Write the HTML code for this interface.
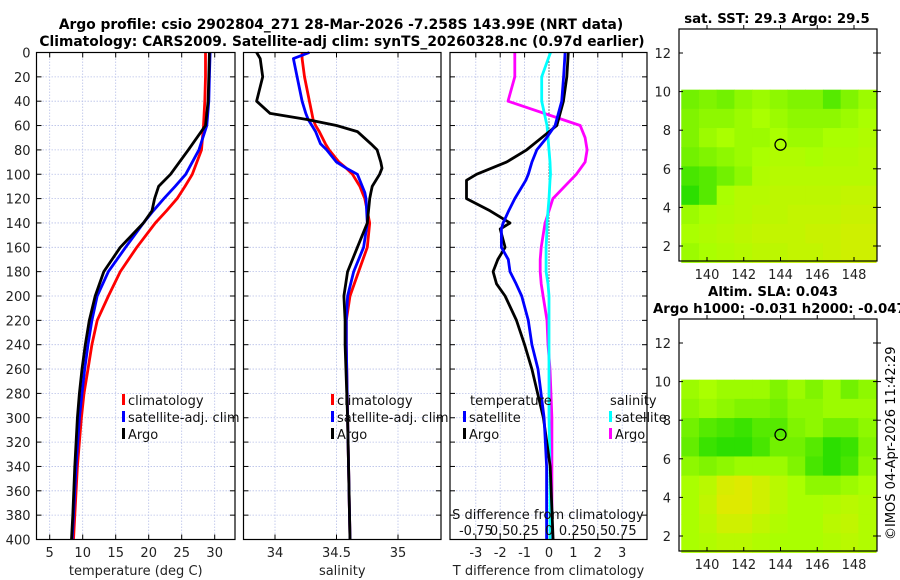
<!DOCTYPE html>
<html><head><meta charset="utf-8">
<style>
html,body{margin:0;padding:0;background:#fff;}
svg{display:block;font-family:"DejaVu Sans","Liberation Sans",sans-serif;}
</style></head>
<body>
<svg id="fig" width="900" height="580" viewBox="0 0 900 580" xmlns="http://www.w3.org/2000/svg">
<text x="341" y="29" text-anchor="middle" font-size="13.8" font-weight="bold">Argo profile: csio 2902804_271 28-Mar-2026 -7.258S 143.99E (NRT data)</text>
<text x="342" y="46" text-anchor="middle" font-size="13.8" font-weight="bold">Climatology: CARS2009. Satellite-adj clim: synTS_20260328.nc (0.97d earlier)</text>
<text x="777" y="23" text-anchor="middle" font-size="13.3" font-weight="bold">sat. SST: 29.3 Argo: 29.5</text>
<text x="773" y="296" text-anchor="middle" font-size="13.3" font-weight="bold">Altim. SLA: 0.043</text>
<text x="653" y="313" font-size="13.3" font-weight="bold">Argo h1000: -0.031 h2000: -0.047</text>
<text transform="translate(895,540) rotate(-90)" font-size="13">©IMOS 04-Apr-2026 11:42:29</text>
<g id="g"></g>
</svg>
<script>
// ---------- data ----------
const depthT = [0,20,40,60,80,100,110,120,130,140,160,180,200,220,240,260,280,300,340,380,400];
const tempClim = [28.6,28.6,28.5,28.3,28.0,26.6,25.5,24.3,22.7,21.0,18.2,15.7,13.9,12.2,11.4,10.8,10.2,9.8,9.2,8.8,8.6];
const tempSat  = [29.3,29.2,29.1,28.8,27.6,25.6,24.0,22.3,20.7,19.2,16.5,13.9,12.2,11.4,10.8,10.3,9.9,9.5,9.0,8.6,8.4];
const tempArgo = [29.2,29.1,29.0,28.6,26.0,23.3,21.5,20.9,20.5,19.2,15.7,13.2,11.9,11.0,10.4,9.9,9.5,9.2,8.8,8.5,8.3];

const depthS = [0,5,20,40,50,55,60,65,75,80,90,95,100,110,115,120,140,160,180,200,220,240,300,400];
const salClim = [34.22,34.22,34.24,34.28,34.30,34.31,34.33,34.36,34.41,34.44,34.52,34.58,34.63,34.69,34.71,34.73,34.77,34.75,34.68,34.61,34.58,34.58,34.59,34.61];
const salSat  = [34.28,34.15,34.18,34.22,34.25,34.27,34.30,34.33,34.37,34.42,34.50,34.58,34.67,34.71,34.73,34.74,34.75,34.72,34.64,34.59,34.58,34.58,34.59,34.61];
const salArgo = [33.85,33.88,33.90,33.85,33.96,34.26,34.50,34.67,34.78,34.83,34.86,34.87,34.85,34.79,34.78,34.77,34.75,34.67,34.59,34.56,34.57,34.57,34.59,34.61];

const depthD = [0,20,40,60,70,80,90,100,105,120,130,140,145,160,170,180,190,200,220,240,260,300,340,400];
const tDiffArgo = [0.79,0.73,0.59,0.32,-0.30,-0.92,-1.74,-2.97,-3.38,-3.38,-2.42,-1.60,-2.00,-1.80,-2.10,-2.29,-2.15,-1.80,-1.33,-1.00,-0.70,-0.23,0.05,0.17];
const tDiffSat  = [0.66,0.60,0.52,0.25,-0.10,-0.50,-0.70,-0.85,-0.95,-1.40,-1.65,-1.88,-1.95,-1.95,-1.67,-1.60,-1.35,-1.12,-0.85,-0.70,-0.45,-0.20,-0.10,-0.10];
const sDiffArgo = [-0.35,-0.35,-0.42,0.32,0.37,0.39,0.37,0.28,0.22,0.04,0.00,-0.04,-0.05,-0.08,-0.09,-0.09,-0.08,-0.06,-0.02,-0.01,0.01,0.03,0.03,0.03];
const sDiffSat  = [0.015,-0.075,-0.075,-0.02,-0.01,0.00,0.01,0.015,0.01,0.00,-0.01,-0.02,-0.02,-0.03,-0.03,-0.03,-0.01,0.00,0.00,0.00,0.00,0.00,0.01,0.01];

const depthTicks = [0,20,40,60,80,100,120,140,160,180,200,220,240,260,280,300,320,340,360,380,400];
const tempTicks = [5,10,15,20,25,30];
const salTicks = [34,34.5,35];
const tDiffTicks = [-3,-2,-1,0,1,2,3];
const sDiffTicks = [-0.75,-0.5,-0.25,0,0.25,0.5,0.75];
const sDiffTickLabels = ["-0.75","0.5","0.25","0","0.25","0.5","0.75"];

const latTicks = [2,4,6,8,10,12];
const lonTicks = [140,142,144,146,148];
const sstGrid = [
 [.30,.35,.30,.40,.45,.40,.35,.35,.20,.35,.45],
 [.35,.40,.40,.45,.50,.45,.40,.40,.40,.45,.50],
 [.35,.45,.50,.45,.45,.50,.45,.45,.50,.50,.55],
 [.30,.35,.40,.45,.50,.55,.55,.50,.55,.55,.60],
 [.15,.20,.30,.40,.55,.60,.60,.60,.60,.60,.60],
 [.05,.20,.50,.60,.60,.65,.65,.65,.65,.70,.70],
 [.45,.50,.55,.60,.65,.65,.70,.70,.70,.75,.75],
 [.50,.55,.60,.65,.70,.70,.70,.75,.75,.80,.80],
 [.45,.50,.55,.60,.65,.65,.70,.70,.75,.80,.80]];
const slaGrid = [
 [.45,.50,.45,.45,.45,.35,.45,.35,.45,.30,.40],
 [.40,.45,.40,.35,.35,.30,.40,.40,.45,.45,.45],
 [.30,.20,.15,.10,.20,.20,.35,.40,.30,.30,.40],
 [.25,.10,.05,.05,.15,.30,.30,.20,.05,.10,.35],
 [.40,.35,.40,.45,.45,.45,.35,.15,.05,.15,.40],
 [.50,.60,.80,.85,.75,.60,.50,.40,.40,.45,.50],
 [.50,.65,.85,.85,.75,.60,.50,.50,.55,.60,.55],
 [.50,.60,.75,.75,.65,.55,.50,.50,.60,.65,.55],
 [.50,.55,.60,.60,.55,.50,.50,.50,.55,.60,.55]];
const argoLon = [144.0];
const argoLat = [7.25];

// ---------- helpers ----------
const NS="http://www.w3.org/2000/svg";
const G=document.getElementById('g');
function mk(tag,attrs,parent){const e=document.createElementNS(NS,tag);for(const k in attrs)e.setAttribute(k,attrs[k]);(parent||G).appendChild(e);return e;}
const yD = d => 52.5 + d*1.2175;

function panel(x0,x1,name,xs,ticks,labels,showY,xlabel){
  const y0=52.5,y1=yD(400);
  const grp=mk('g',{});
  
  
  depthTicks.forEach(d=>{
    const l=mk('line',{x1:x0,x2:x1,y1:yD(d),y2:yD(d),stroke:'#b8c0e8','stroke-width':0.8,'stroke-dasharray':'1.5,1.5'},grp);
    
    
    mk('line',{x1:x0,x2:x0+5,y1:yD(d),y2:yD(d),stroke:'#000'},grp);
    mk('line',{x1:x1-5,x2:x1,y1:yD(d),y2:yD(d),stroke:'#000'},grp);
    if(showY){const t=mk('text',{x:x0-6,y:yD(d)+5,'text-anchor':'end','font-size':13,fill:'#222'},grp);t.textContent=d;
      
      }
  });
  ticks.forEach((v,i)=>{
    const X=xs(v);
    mk('line',{x1:X,x2:X,y1:y0,y2:y1,stroke:'#b8c0e8','stroke-width':0.8,'stroke-dasharray':'1.5,1.5'},grp);
    mk('line',{x1:X,x2:X,y1:y1-5,y2:y1,stroke:'#000'},grp);
    mk('line',{x1:X,x2:X,y1:y0,y2:y0+5,stroke:'#000'},grp);
    const t=mk('text',{x:X,y:557,'text-anchor':'middle','font-size':13,fill:'#222'},grp);t.textContent=labels[i];
    
    
  });
  const xl=mk('text',{x:(x0+x1)/2,y:575,'text-anchor':'middle','font-size':13,fill:'#222'},grp);xl.textContent=xlabel;
  
  
  return grp;
}
function frame(x0,x1,grp){mk('rect',{x:x0,y:52.5,width:x1-x0,height:yD(400)-52.5,fill:'none',stroke:'#000','stroke-width':1.2},grp);}
function line(grp,xs,vals,depths,color,name){
  const p=mk('polyline',{points:vals.map((v,i)=>xs(v).toFixed(1)+','+yD(depths[i]).toFixed(1)).join(' '),fill:'none',stroke:color,'stroke-width':2.8,'stroke-linejoin':'round'},grp);
  
  
}
function legend(grp,x,y,color,label,name){
  mk('rect',{x:x,y:y-11,width:3,height:11,fill:color},grp);
  const t=mk('text',{x:x+6,y:y,'font-size':13,fill:'#111'},grp);t.textContent=label;
  
  
}

// ---------- panel 1: temperature ----------
const xT = t => 49.7 + (t-5)*6.6;
const p1=panel(36.5,235,'temperature-panel',xT,tempTicks,tempTicks,true,'temperature (deg C)');
line(p1,xT,tempClim,depthT,'#ff0000','temp-climatology-line');
line(p1,xT,tempSat,depthT,'#0000ff','temp-satellite-line');
line(p1,xT,tempArgo,depthT,'#000000','temp-argo-line');
legend(p1,122,405,'#ff0000','climatology','legend-climatology');
legend(p1,122,422,'#0000ff','satellite-adj. clim','legend-satellite');
legend(p1,122,439,'#000000','Argo','legend-argo');
frame(36.5,235,p1);

// ---------- panel 2: salinity ----------
const xS = s => 275 + (s-34)*123;
const p2=panel(243.5,441,'salinity-panel',xS,salTicks,['34','34.5','35'],false,'salinity');
line(p2,xS,salClim,depthS,'#ff0000','sal-climatology-line');
line(p2,xS,salSat,depthS,'#0000ff','sal-satellite-line');
line(p2,xS,salArgo,depthS,'#000000','sal-argo-line');
legend(p2,331,405,'#ff0000','climatology','legend-sal-climatology');
legend(p2,331,422,'#0000ff','satellite-adj. clim','legend-sal-satellite');
legend(p2,331,439,'#000000','Argo','legend-sal-argo');
frame(243.5,441,p2);

// ---------- panel 3: differences ----------
const xDT = v => 549 + v*24.4;
const xDS = v => 549 + v*4*24.4;
const p3=panel(450,647,'difference-panel',xDT,tDiffTicks,tDiffTicks,false,'T difference from climatology');
const zl=mk('line',{x1:549,x2:549,y1:52.5,y2:yD(400),stroke:'#000','stroke-width':1,'stroke-dasharray':'1,2'},p3);


line(p3,xDS,sDiffArgo,depthD,'#ff00ff','sdiff-argo-line');
line(p3,xDS,sDiffSat,depthD,'#00ffff','sdiff-satellite-line');
line(p3,xDT,tDiffArgo,depthD,'#000000','tdiff-argo-line');
line(p3,xDT,tDiffSat,depthD,'#0000ff','tdiff-satellite-line');
const lt=mk('text',{x:470,y:405,'font-size':13,fill:'#111'},p3);lt.textContent='temperature';


const ls=mk('text',{x:610,y:405,'font-size':13,fill:'#111'},p3);ls.textContent='salinity';


legend(p3,463,422,'#0000ff','satellite','legend-tdiff-satellite');
legend(p3,463,439,'#000000','Argo','legend-tdiff-argo');
legend(p3,609,422,'#00ffff','satellite','legend-sdiff-satellite');
legend(p3,609,439,'#ff00ff','Argo','legend-sdiff-argo');
const st=mk('text',{x:548,y:519,'text-anchor':'middle','font-size':13,fill:'#111'},p3);st.textContent='S difference from climatology';


sDiffTicks.forEach((v,i)=>{
  const t=mk('text',{x:xDS(v),y:535,'text-anchor':'middle','font-size':13,fill:'#111'},p3);t.textContent=sDiffTickLabels[i];
  
  
});
frame(450,647,p3);

// ---------- maps ----------
function color(v,sla){
  let r,g;
  if(v<0.5){const f=v/0.5;r=30+f*(170-30);g=220+f*(255-220);}
  else{const f=(v-0.5)/0.5;r=170+f*(sla?75:60);g=255-f*(sla?30:25);}
  return `rgb(${r|0},${g|0},0)`;
}
function map(top,bot,y12,y2,gridVals,name,sla){
  const x0=679,x1=877;
  const lonX = lo => 707 + (lo-140)*18.375;
  const latY = la => y12 + (12-la)*(y2-y12)/10;
  const grp=mk('g',{});
  
  
  const lat0=10.1, lat1=1.15, lon0=138.6, lon1=149.2;
  const nr=gridVals.length, nc=gridVals[0].length;
  gridVals.forEach((row,r)=>row.forEach((v,c)=>{
    const la=lat0-(lat0-lat1)*r/nr, laB=lat0-(lat0-lat1)*(r+1)/nr;
    const lo=lon0+(lon1-lon0)*c/nc, loR=lon0+(lon1-lon0)*(c+1)/nc;
    const cell=mk('rect',{x:lonX(lo),y:latY(la),width:lonX(loR)-lonX(lo)+0.5,height:latY(laB)-latY(la)+0.5,fill:color(v,sla)},grp);
    
    
  }));
  latTicks.forEach(la=>{
    const Y=latY(la);
    mk('line',{x1:x0,x2:x0+4,y1:Y,y2:Y,stroke:'#000'},grp);
    mk('line',{x1:x1-4,x2:x1+4,y1:Y,y2:Y,stroke:'#000'},grp);
    const t=mk('text',{x:671,y:Y+5,'text-anchor':'end','font-size':13,fill:'#222'},grp);t.textContent=la;
    
    
  });
  lonTicks.forEach(lo=>{
    const X=lonX(lo);
    mk('line',{x1:X,x2:X,y1:top-4,y2:top,stroke:'#000'},grp);
    mk('line',{x1:X,x2:X,y1:bot,y2:bot-4,stroke:'#000'},grp);
    const t=mk('text',{x:X,y:bot+18,'text-anchor':'middle','font-size':13,fill:'#222'},grp);t.textContent=lo;
    
    
  });
  argoLon.forEach((lo,i)=>{
    const m=mk('circle',{cx:lonX(lo),cy:latY(argoLat[i]),r:5.5,fill:'none',stroke:'#000','stroke-width':1.3},grp);
    
    
  });
  mk('rect',{x:x0,y:top,width:x1-x0,height:bot-top,fill:'none',stroke:'#000','stroke-width':1.2},grp);
}
map(29,261,53,246,sstGrid,'sst-map',false);
map(319,551,343,536,slaGrid,'sla-map',true);
</script>
</body></html>
